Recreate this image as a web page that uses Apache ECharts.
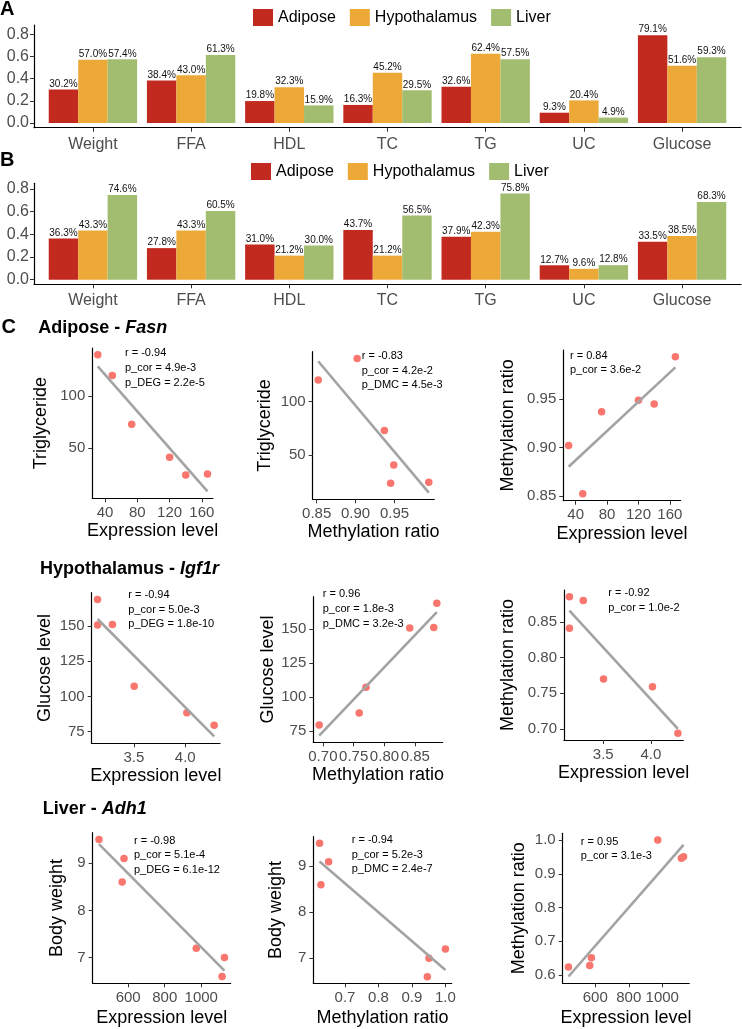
<!DOCTYPE html>
<html><head><meta charset="utf-8">
<script src="https://cdn.jsdelivr.net/npm/echarts@6/dist/echarts.min.js"></script>
<style>html,body{margin:0;padding:0;background:#fff}#c{width:742px;height:1029px}</style>
</head><body><div id="c"></div>
<script>
// ---------------- DATA ----------------
const categories = ['Weight','FFA','HDL','TC','TG','UC','Glucose'];
const tissues = ['Adipose','Hypothalamus','Liver'];
const panelA_adipose = [0.302,0.384,0.198,0.163,0.326,0.093,0.791];
const panelA_hypo    = [0.570,0.430,0.323,0.452,0.624,0.204,0.516];
const panelA_liver   = [0.574,0.613,0.159,0.295,0.575,0.049,0.593];
const panelB_adipose = [0.363,0.278,0.310,0.437,0.379,0.127,0.335];
const panelB_hypo    = [0.433,0.433,0.212,0.212,0.423,0.096,0.385];
const panelB_liver   = [0.746,0.605,0.300,0.565,0.758,0.128,0.683];
const barTicks = ['0.0','0.2','0.4','0.6','0.8'];

const adiposeExpr = [31,49,73,120,140,167];
const adiposeTG   = [140,120,73,41,24,25];
const adiposeMeth = [0.902,0.852,0.937,0.949,0.945,0.994];
const hypoExpr    = [3.146,3.146,3.291,3.503,4.016,4.282];
const hypoGlucose = [168.8,150.8,151.0,107.3,88.4,79.6];
const hypoMeth    = [0.885,0.841,0.880,0.770,0.759,0.694];
const liverExpr   = [440,577,567,973,1127,1114];
const liverBW     = [9.5,9.1,8.6,7.2,7.0,6.6];
const liverMeth   = [0.624,0.651,0.628,1.0,0.951,0.946];

const ticksExprAdipose = ['40','80','120','160'];
const ticksTG = ['50','100'];
const ticksMethAdipose = ['0.85','0.90','0.95'];
const ticksExprHypo = ['3.5','4.0'];
const ticksGlucose = ['75','100','125','150'];
const ticksMethHypo = ['0.70','0.75','0.80','0.85'];
const ticksExprLiver = ['600','800','1000'];
const ticksBW = ['7','8','9'];
const ticksMethLiverX = ['0.7','0.8','0.9','1.0'];
const ticksMethLiverY = ['0.6','0.7','0.8','0.9','1.0'];

const notes1 = ['r = -0.94','p_cor = 4.9e-3','p_DEG = 2.2e-5'];
const notes2 = ['r = -0.83','p_cor = 4.2e-2','p_DMC = 4.5e-3'];
const notes3 = ['r = 0.84','p_cor = 3.6e-2'];
const notes4 = ['r = -0.94','p_cor = 5.0e-3','p_DEG = 1.8e-10'];
const notes5 = ['r = 0.96','p_cor = 1.8e-3','p_DMC = 3.2e-3'];
const notes6 = ['r = -0.92','p_cor = 1.0e-2'];
const notes7 = ['r = -0.98','p_cor = 5.1e-4','p_DEG = 6.1e-12'];
const notes8 = ['r = -0.94','p_cor = 5.2e-3','p_DMC = 2.4e-7'];
const notes9 = ['r = 0.95','p_cor = 3.1e-3'];

const rowTitles = [['Adipose - ','Fasn'],['Hypothalamus - ','Igf1r'],['Liver - ','Adh1']];

// ---------------- STYLE / LAYOUT ----------------
const FONT = '"Liberation Sans", Arial, Helvetica, sans-serif';
const COLORS = ['#C22A1F','#EDA938','#A2BD70'];
const PT_COLOR = '#F8766D';
const FIT_COLOR = '#A3A3A3';

const barPanels = [
  {vals:[panelA_adipose,panelA_hypo,panelA_liver], grid:{left:34, top:25, width:707, height:102.7}, legend:{left:253, top:9}},
  {vals:[panelB_adipose,panelB_hypo,panelB_liver], grid:{left:34, top:183.3, width:707, height:101}, legend:{left:251, top:163}}
];

const scatterPlots = [
  {x:adiposeExpr, y:adiposeTG, xName:'Expression level', yName:'Triglyceride', xt:ticksExprAdipose, yt:ticksTG, notes:notes1},
  {x:adiposeMeth, y:adiposeTG, xName:'Methylation ratio', yName:'Triglyceride', xt:ticksMethAdipose, yt:ticksTG, notes:notes2},
  {x:adiposeExpr, y:adiposeMeth, xName:'Expression level', yName:'Methylation ratio', xt:ticksExprAdipose, yt:ticksMethAdipose, notes:notes3},
  {x:hypoExpr, y:hypoGlucose, xName:'Expression level', yName:'Glucose level', xt:ticksExprHypo, yt:ticksGlucose, notes:notes4},
  {x:hypoMeth, y:hypoGlucose, xName:'Methylation ratio', yName:'Glucose level', xt:ticksMethHypo, yt:ticksGlucose, notes:notes5},
  {x:hypoExpr, y:hypoMeth, xName:'Expression level', yName:'Methylation ratio', xt:ticksExprHypo, yt:ticksMethHypo, notes:notes6},
  {x:liverExpr, y:liverBW, xName:'Expression level', yName:'Body weight', xt:ticksExprLiver, yt:ticksBW, notes:notes7},
  {x:liverMeth, y:liverBW, xName:'Methylation ratio', yName:'Body weight', xt:ticksMethLiverX, yt:ticksBW, notes:notes8},
  {x:liverExpr, y:liverMeth, xName:'Expression level', yName:'Methylation ratio', xt:ticksExprLiver, yt:ticksMethLiverY, notes:notes9}
];
const scatterLayout = [
  {box:[92.3,348,213,498.3],   note:[125,353.3],   yGap:42, xGap:24},
  {box:[312.7,351.7,434.3,499.3], note:[361.7,356], yGap:39, xGap:24},
  {box:[563.3,350,680.7,500.7], note:[570,355.7],   yGap:46, xGap:24},
  {box:[91.7,592.7,220,743.3],  note:[128.3,595],   yGap:38, xGap:24},
  {box:[313.3,596.7,442.7,742.3], note:[322.7,594.3], yGap:36, xGap:24},
  {box:[564,590,683.3,740],     note:[608.3,593.3], yGap:47, xGap:24},
  {box:[92.7,832.7,230.7,983.3], note:[134,840.7],  yGap:27, xGap:26},
  {box:[313.3,836.7,451.7,983.3], note:[351.7,840], yGap:28, xGap:26},
  {box:[562.7,833.3,689.3,983.3], note:[580.7,841.7], yGap:35, xGap:26}
];
const titlePos = [[38.3,328],[40,569.3],[42.7,809.3]];
const letterPos = [['A',0,9.5],['B',0,160.5],['C',1.5,327.5]];

// ---------------- HELPERS ----------------
function lmFit(xs, ys){
  const n = xs.length;
  const mx = xs.reduce((a,b)=>a+b,0)/n, my = ys.reduce((a,b)=>a+b,0)/n;
  let sxy=0, sxx=0;
  for(let i=0;i<n;i++){ sxy += (xs[i]-mx)*(ys[i]-my); sxx += (xs[i]-mx)*(xs[i]-mx); }
  const b = sxy/sxx; return [my - b*mx, b];
}
function padRange(vals){
  const lo = Math.min(...vals), hi = Math.max(...vals), s = hi-lo;
  return [lo-0.05*s, hi+0.05*s];
}
function fmtFrom(labels){
  return v => { const s = labels.find(t => Math.abs(Number(t)-v) < 1e-9); return s === undefined ? '' : s; };
}

// ---------------- BUILD OPTION ----------------
const grid=[], xAxis=[], yAxis=[], series=[], legend=[], graphic=[];

barPanels.forEach((p, pi) => {
  grid.push(p.grid);
  const upper = Math.max(...p.vals.flat()) + 0.05;
  xAxis.push({
    gridIndex: grid.length-1, type:'value', min:-0.6, max:categories.length-0.4,
    axisLine:{show:true, onZero:false, lineStyle:{color:'#000', width:1.2}},
    axisTick:{show:true, customValues: categories.map((c,i)=>i), length:4, lineStyle:{color:'#333'}},
    axisLabel:{customValues: categories.map((c,i)=>i), formatter: v => categories[Math.round(v)], fontSize:16, color:'#4D4D4D', margin:8.5, fontFamily:FONT},
    splitLine:{show:false}
  });
  yAxis.push({
    gridIndex: grid.length-1, type:'value', min:-0.05*upper, max:upper*1.05,
    axisLine:{show:true, onZero:false, lineStyle:{color:'#000', width:1.2}},
    axisTick:{show:true, customValues: barTicks.map(Number), length:4, lineStyle:{color:'#333'}},
    axisLabel:{customValues: barTicks.map(Number), formatter: fmtFrom(barTicks), fontSize:16, color:'#4D4D4D', margin:5, fontFamily:FONT},
    splitLine:{show:false}
  });
  const gi = grid.length-1;
  p.vals.forEach((vals, si) => {
    series.push({
      type:'bar', name: tissues[si], xAxisIndex: gi, yAxisIndex: gi,
      data: vals.map((v,i)=>[i,v]), barWidth:'30%', barGap:'0%',
      itemStyle:{color: COLORS[si]},
      label:{show:true, position:'top', distance:0.5, fontSize:10, lineHeight:10, color:'#111', fontFamily:FONT,
             formatter: q => (q.value[1]*100).toFixed(1)+'%'},
      emphasis:{disabled:true}, animation:false
    });
  });
  legend.push({
    data: tissues, left: p.legend.left, top: p.legend.top, padding:0, icon:'rect', itemWidth:20, itemHeight:17, itemGap:14,
    textStyle:{fontSize:16, color:'#000', fontFamily:FONT}, selectedMode:false
  });
});

scatterPlots.forEach((p, k) => {
  const L = scatterLayout[k];
  const [l,t,r,b] = L.box;
  grid.push({left:l, top:t, width:r-l, height:b-t});
  const gi = grid.length-1;
  const [a, s] = lmFit(p.x, p.y);
  const xlo = Math.min(...p.x), xhi = Math.max(...p.x);
  const fitPts = [[xlo, a+s*xlo],[xhi, a+s*xhi]];
  const xr = padRange(p.x);
  const yr = padRange(p.y.concat(fitPts.map(q=>q[1])));
  xAxis.push({
    gridIndex: gi, type:'value', min:xr[0], max:xr[1],
    axisLine:{show:true, onZero:false, lineStyle:{color:'#000', width:1.2}},
    axisTick:{show:true, customValues: p.xt.map(Number), length:4, lineStyle:{color:'#333'}},
    axisLabel:{customValues: p.xt.map(Number), formatter: fmtFrom(p.xt), fontSize:15, color:'#4D4D4D', margin:7, fontFamily:FONT, hideOverlap:false},
    splitLine:{show:false},
    name:p.xName, nameLocation:'middle', nameGap:L.xGap, nameTextStyle:{fontSize:18, color:'#000', fontFamily:FONT}
  });
  yAxis.push({
    gridIndex: gi, type:'value', min:yr[0], max:yr[1],
    axisLine:{show:true, onZero:false, lineStyle:{color:'#000', width:1.2}},
    axisTick:{show:true, customValues: p.yt.map(Number), length:4, lineStyle:{color:'#333'}},
    axisLabel:{customValues: p.yt.map(Number), formatter: fmtFrom(p.yt), fontSize:15, color:'#4D4D4D', margin:7, fontFamily:FONT},
    splitLine:{show:false},
    name:p.yName, nameLocation:'middle', nameGap:L.yGap, nameTextStyle:{fontSize:18, color:'#000', fontFamily:FONT}
  });
  series.push({
    type:'scatter', xAxisIndex:gi, yAxisIndex:gi, data: p.x.map((v,i)=>[v,p.y[i]]),
    symbolSize:7.5, itemStyle:{color:PT_COLOR, opacity:1}, emphasis:{disabled:true}, z:2, animation:false
  });
  series.push({
    type:'line', xAxisIndex:gi, yAxisIndex:gi, data: fitPts, showSymbol:false, symbol:'none',
    lineStyle:{color:FIT_COLOR, width:2.6}, emphasis:{disabled:true}, z:3, animation:false
  });
  graphic.push({
    type:'text', x:L.note[0], y:L.note[1]-7.35,
    style:{text:p.notes.join('\n'), fontSize:11, lineHeight:14.7, fill:'#000', fontFamily:FONT, verticalAlign:'top', align:'left'}
  });
});

rowTitles.forEach((tt, i) => {
  graphic.push({
    type:'text', x:titlePos[i][0], y:titlePos[i][1],
    style:{text:'{a|'+tt[0]+'}{b|'+tt[1]+'}', verticalAlign:'middle', align:'left',
      rich:{a:{fontSize:18, fontWeight:'bold', fill:'#000', fontFamily:FONT},
            b:{fontSize:18, fontWeight:'bold', fontStyle:'italic', fill:'#000', fontFamily:FONT}}}
  });
});
letterPos.forEach(([s,x,y]) => {
  graphic.push({type:'text', x:x, y:y, style:{text:s, fontSize:20, fontWeight:'bold', fill:'#000', fontFamily:FONT, verticalAlign:'middle', align:'left'}});
});

const chart = echarts.init(document.getElementById('c'), null, {renderer:'canvas', width:742, height:1029});
chart.setOption({
  animation:false, backgroundColor:'#fff', textStyle:{fontFamily:FONT},
  grid, xAxis, yAxis, series, legend, graphic
});
</script>
</body></html>
